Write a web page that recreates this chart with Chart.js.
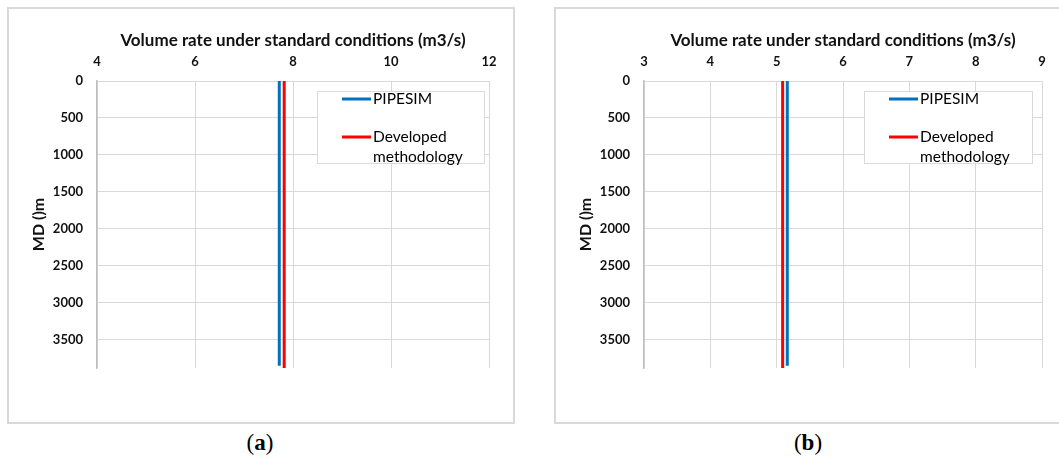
<!DOCTYPE html>
<html><head><meta charset="utf-8">
<script src="https://cdn.jsdelivr.net/npm/chart.js@4.4.0/dist/chart.umd.min.js"></script>
<style>
html,body{margin:0;padding:0;background:#fff;width:1059px;height:459px;overflow:hidden;position:relative}
.frame{position:absolute;border:2px solid #d9d9d9;box-sizing:border-box}
.cv{position:absolute;top:0}
.cap{position:absolute;font-family:"Liberation Serif","DejaVu Serif",serif;font-size:23px;transform:translateX(-50%);top:430px;color:#000}
</style></head><body>
<div class="frame" style="left:7px;top:7px;width:508px;height:417px"></div>
<div class="frame" style="left:554px;top:7px;width:512px;height:417px"></div>
<div class="cv" style="left:0;"><canvas id="ca" width="530" height="430"></canvas></div>
<div class="cv" style="left:530px;"><canvas id="cb" width="529" height="430"></canvas></div>
<div class="cap" style="left:260px">(<b>a</b>)</div>
<div class="cap" style="left:808px">(<b>b</b>)</div>
<script>
// ---- data ----
const seriesNames = ['PIPESIM', 'Developed methodology'];
const depthPipesim = [0, 3850];
const depthDeveloped = [0, 3880];
const rateA_Pipesim = [7.72, 7.72];
const rateA_Developed = [7.82, 7.82];
const rateB_Pipesim = [5.16, 5.16];
const rateB_Developed = [5.09, 5.09];
const xTicksA = [4, 6, 8, 10, 12];
const xTicksB = [3, 4, 5, 6, 7, 8, 9];
const depthTicks = [0, 500, 1000, 1500, 2000, 2500, 3000, 3500];
const depthMax = 3880;
const xTitle = 'Volume rate under standard conditions (m3/s)';
const yTitle = 'MD ()m';

Chart.defaults.font.family = 'Lato, "Open Sans", sans-serif';
Chart.defaults.color = '#111';

const boxLegend = {
  id: 'boxLegend',
  afterDatasetsDraw(chart, args, o) {
    const {ctx, chartArea} = chart;
    const left = chartArea.right - o.rightGap - o.width;
    const top = chartArea.top + o.topGap;
    ctx.save();
    ctx.fillStyle = '#fff';
    ctx.fillRect(left, top, o.width, o.height);
    ctx.strokeStyle = '#d9d9d9'; ctx.lineWidth = 1;
    ctx.strokeRect(left + 0.5, top + 0.5, o.width - 1, o.height - 1);
    ctx.font = o.font;
    ctx.textBaseline = 'middle';
    let y = top + o.firstY;
    chart.data.datasets.forEach(ds => {
      const words = ds.label.split(' ');
      const lines = []; let cur = '';
      words.forEach(w => {
        const t = cur ? cur + ' ' + w : w;
        if (cur && ctx.measureText(t).width > o.maxText) { lines.push(cur); cur = w; } else cur = t;
      });
      lines.push(cur);
      ctx.strokeStyle = ds.borderColor; ctx.lineWidth = 3;
      ctx.beginPath(); ctx.moveTo(left + o.sampleX0, y); ctx.lineTo(left + o.sampleX1, y); ctx.stroke();
      ctx.fillStyle = '#000';
      lines.forEach((l, i) => ctx.fillText(l, left + o.textX, y + i * o.lineH));
      y += lines.length * o.lineH + o.gap;
    });
    ctx.restore();
  }
};

function makeChart(id, ratesP, ratesD, xTicks, yAxisW, padRight, legendCfg, yTitlePad) {
  const toPts = (r, d) => r.map((x, i) => ({x, y: d[i]}));
  return new Chart(document.getElementById(id), {
    type: 'scatter',
    data: { datasets: [
      { label: seriesNames[0], data: toPts(ratesP, depthPipesim), borderColor: '#0070C0', backgroundColor: '#0070C0', borderWidth: 3, showLine: true, pointRadius: 0 },
      { label: seriesNames[1], data: toPts(ratesD, depthDeveloped), borderColor: '#FF0000', backgroundColor: '#FF0000', borderWidth: 3, showLine: true, pointRadius: 0 }
    ]},
    options: {
      responsive: false, animation: false,
      layout: { padding: { left: 0, top: 0, right: padRight, bottom: 62 } },
      plugins: { legend: { display: false }, tooltip: { enabled: false }, boxLegend: legendCfg },
      scales: {
        x: {
          type: 'linear', position: 'top', min: xTicks[0], max: xTicks[xTicks.length - 1],
          afterBuildTicks: s => { s.ticks = xTicks.map(v => ({value: v})); },
          afterFit: s => { s.height = 81; },
          grid: { color: '#d9d9d9', drawTicks: false, lineWidth: 1 },
          border: { display: false },
          ticks: { padding: 11, font: { size: 13, weight: 'bold' }, color: '#111', callback: v => String(v) },
          title: { display: true, text: xTitle, font: { size: 17, weight: 'bold' }, color: '#111', padding: { top: 30, bottom: 0 } }
        },
        y: {
          type: 'linear', position: 'left', reverse: true, min: 0, max: depthMax,
          afterBuildTicks: s => { s.ticks = depthTicks.map(v => ({value: v})); },
          afterFit: s => { s.width = yAxisW; },
          grid: { color: '#d9d9d9', drawTicks: false, lineWidth: 1 },
          border: { display: true, color: '#bfbfbf', width: 1.5 },
          ticks: { padding: 14, font: { size: 13, weight: 'bold' }, color: '#111', callback: v => String(v) },
          title: { display: true, text: yTitle, font: { size: 16, weight: 'bold' }, color: '#111', padding: { top: yTitlePad, bottom: 0 } }
        }
      }
    },
    plugins: [boxLegend]
  });
}

const legendBase = { topGap: 10, height: 73, firstY: 8, lineH: 20, gap: 18, sampleX0: 25, sampleX1: 54, textX: 56, maxText: 110, font: '15.5px Lato, "Open Sans", sans-serif' };
makeChart('ca', rateA_Pipesim, rateA_Developed, xTicksA, 97, 41, Object.assign({}, legendBase, { rightGap: 4, width: 168 }), 29);
makeChart('cb', rateB_Pipesim, rateB_Developed, xTicksB, 114, 17, Object.assign({}, legendBase, { rightGap: 9, width: 169 }), 46);
</script>
</body></html>
